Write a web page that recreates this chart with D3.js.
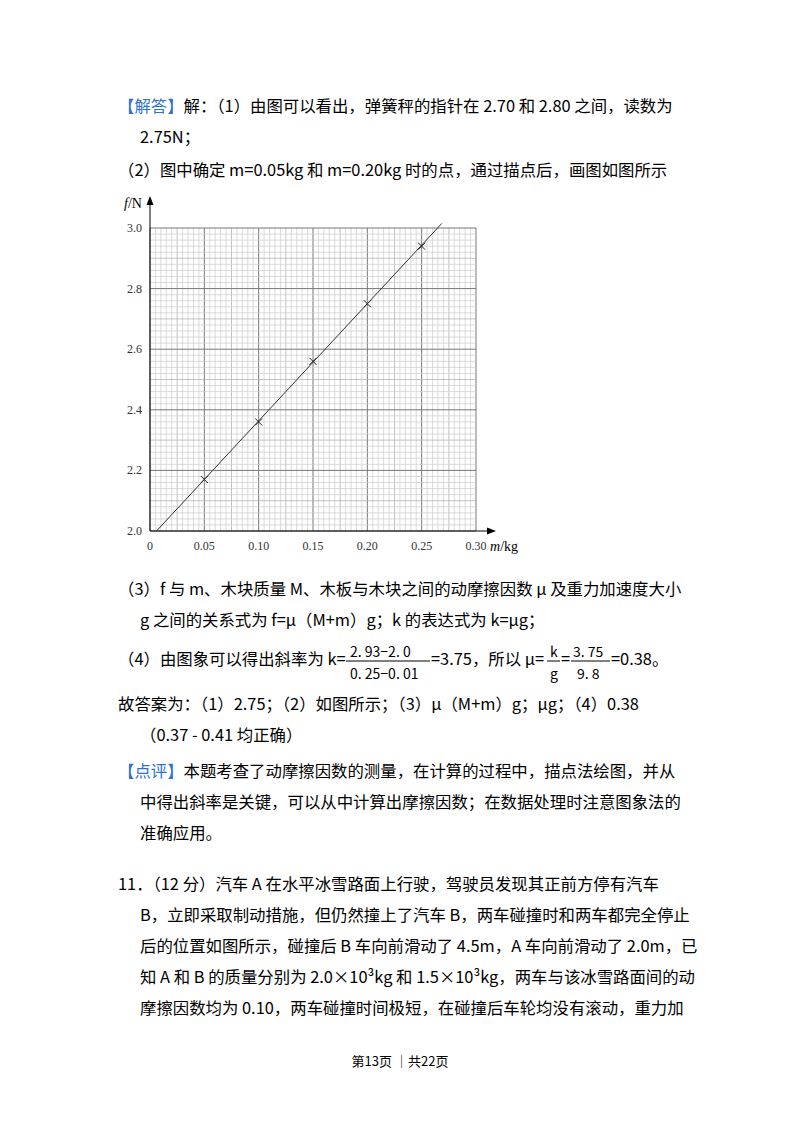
<!DOCTYPE html>
<html><head><meta charset="utf-8">
<script src="https://cdn.jsdelivr.net/npm/d3@7"></script>
<style>body{margin:0;background:#fff}</style>
</head><body>
<svg id="c" width="800" height="1132"></svg>
<script>
const massValues = [0.05, 0.10, 0.15, 0.20, 0.25];
const forceValues = [2.17, 2.36, 2.56, 2.75, 2.94];
const fitLine = [[0.006, 2.0], [0.2685, 3.015]];
const xTicks = [0, 0.05, 0.10, 0.15, 0.20, 0.25, 0.30];
const yTicks = [2.0, 2.2, 2.4, 2.6, 2.8, 3.0];

const svg = d3.select('#c');
const font = '"Noto Sans CJK SC", "Noto Sans", sans-serif';
const fs = 16.4;

// body text
const blue = '#2f6fd0';
const lines = [
  [118, 112, [['【解答】', blue], ['解：（1）由图可以看出，弹簧秤的指针在 2.70 和 2.80 之间，读数为', '#000']]],
  [140, 143, [['2.75N；', '#000']]],
  [118, 176, [['（2）图中确定 m=0.05kg 和 m=0.20kg 时的点，通过描点后，画图如图所示', '#000']]],
  [118, 595, [['（3）f 与 m、木块质量 M、木板与木块之间的动摩擦因数 μ 及重力加速度大小', '#000']]],
  [140, 626, [['g 之间的关系式为 f=μ（M+m）g；k 的表达式为 k=μg；', '#000']]],
  [118, 710, [['故答案为：（1）2.75；（2）如图所示；（3）μ（M+m）g；μg；（4）0.38', '#000']]],
  [140, 741, [['（0.37 - 0.41 均正确）', '#000']]],
  [118, 777, [['【点评】', blue], ['本题考查了动摩擦因数的测量，在计算的过程中，描点法绘图，并从', '#000']]],
  [140, 808, [['中得出斜率是关键，可以从中计算出摩擦因数；在数据处理时注意图象法的', '#000']]],
  [140, 839, [['准确应用。', '#000']]],
  [118, 890, [['11．（12 分）汽车 A 在水平冰雪路面上行驶，驾驶员发现其正前方停有汽车', '#000']]],
  [140, 921, [['B，立即采取制动措施，但仍然撞上了汽车 B，两车碰撞时和两车都完全停止', '#000']]],
  [140, 952, [['后的位置如图所示，碰撞后 B 车向前滑动了 4.5m，A 车向前滑动了 2.0m，已', '#000']]],
  [140, 983, [['知 A 和 B 的质量分别为 2.0×10³kg 和 1.5×10³kg，两车与该冰雪路面间的动', '#000']]],
  [140, 1014, [['摩擦因数均为 0.10，两车碰撞时间极短，在碰撞后车轮均没有滚动，重力加', '#000']]]
];
lines.forEach(([x, y, parts]) => {
  const t = svg.append('text').attr('x', x).attr('y', y)
    .attr('font-family', font).attr('font-size', fs);
  parts.forEach(([s, c]) => t.append('tspan').attr('fill', c).text(s));
});
// fraction line (4)
const ft = svg.append('g').attr('font-family', font).attr('font-size', fs);
ft.append('text').attr('x', 118).attr('y', 665).text('（4）由图象可以得出斜率为 k=');
ft.append('text').attr('x', 350).attr('y', 657).attr('font-size', 14).text('2. 93−2. 0');
ft.append('line').attr('x1', 346).attr('x2', 430).attr('y1', 661).attr('y2', 661).attr('stroke', '#000');
ft.append('text').attr('x', 350).attr('y', 679).attr('font-size', 14).text('0. 25−0. 01');
ft.append('text').attr('x', 431).attr('y', 665).text('=3.75，所以 μ=');
ft.append('text').attr('x', 550).attr('y', 657).attr('font-size', 14).text('k');
ft.append('line').attr('x1', 547).attr('x2', 560).attr('y1', 661).attr('y2', 661).attr('stroke', '#000');
ft.append('text').attr('x', 550).attr('y', 679).attr('font-size', 14).text('g');
ft.append('text').attr('x', 561).attr('y', 665).text('=');
ft.append('text').attr('x', 573).attr('y', 657).attr('font-size', 14).text('3. 75');
ft.append('line').attr('x1', 571).attr('x2', 610).attr('y1', 661).attr('y2', 661).attr('stroke', '#000');
ft.append('text').attr('x', 577).attr('y', 679).attr('font-size', 14).text('9. 8');
ft.append('text').attr('x', 611).attr('y', 665).text('=0.38。');

svg.append('text').attr('x', 400).attr('y', 1066).attr('text-anchor', 'middle')
  .attr('font-family', font).attr('font-size', 13).text('第13页 ｜共22页');

// chart
const x = d3.scaleLinear().domain([0, 0.30]).range([150, 476]);
const y = d3.scaleLinear().domain([2.0, 3.0]).range([531, 228]);
const g = svg.append('g');
const xs = d3.range(0, 61).map(i => i * 0.005);
const ys = d3.range(0, 51).map(i => 2 + i * 0.02);
xs.forEach((v, i) => g.append('line').attr('x1', x(v)).attr('x2', x(v)).attr('y1', y(2)).attr('y2', y(3))
  .attr('stroke', i % 10 === 0 ? '#777' : i % 5 === 0 ? '#aaa' : '#ccc').attr('stroke-width', i % 10 === 0 ? 1 : 0.7));
ys.forEach((v, i) => g.append('line').attr('y1', y(v)).attr('y2', y(v)).attr('x1', x(0)).attr('x2', x(0.3))
  .attr('stroke', i % 10 === 0 ? '#777' : i % 5 === 0 ? '#aaa' : '#ccc').attr('stroke-width', i % 10 === 0 ? 1 : 0.7));

// axes
g.append('line').attr('x1', x(0)).attr('x2', 490).attr('y1', y(2)).attr('y2', y(2)).attr('stroke', '#000');
g.append('path').attr('d', `M496,${y(2)} L487,${y(2) - 3.5} L487,${y(2) + 3.5}Z`);
g.append('line').attr('x1', x(0)).attr('x2', x(0)).attr('y1', y(2)).attr('y2', 202).attr('stroke', '#000');
g.append('path').attr('d', `M${x(0)},196 L${x(0) - 3.5},205 L${x(0) + 3.5},205Z`);

const serif = '"Liberation Serif", "DejaVu Serif", serif';
xTicks.forEach(v => g.append('text').attr('x', x(v)).attr('y', 550)
  .attr('text-anchor', 'middle')
  .attr('font-family', serif).attr('font-size', 12).attr('fill', '#333')
  .text(v === 0 ? '0' : v.toFixed(2)));
yTicks.forEach(v => g.append('text').attr('x', 142).attr('y', y(v) + 4).attr('text-anchor', 'end')
  .attr('font-family', serif).attr('font-size', 12).attr('fill', '#333').text(v.toFixed(1)));
g.append('text').attr('x', 490).attr('y', 551).attr('font-family', serif).attr('font-size', 14)
  .html('<tspan font-style="italic">m</tspan>/kg');
g.append('text').attr('x', 124).attr('y', 208).attr('font-family', serif).attr('font-size', 14)
  .html('<tspan font-style="italic">f</tspan>/N');

// fit line
g.append('path').attr('d', d3.line().x(d => x(d[0])).y(d => y(d[1]))(fitLine))
  .attr('stroke', '#333').attr('stroke-width', 1).attr('fill', 'none');
// crosses
massValues.forEach((m, i) => {
  const cx = x(m), cy = y(forceValues[i]);
  g.append('path').attr('d', `M${cx - 3.5},${cy - 3.5}L${cx + 3.5},${cy + 3.5}M${cx - 3.5},${cy + 3.5}L${cx + 3.5},${cy - 3.5}`)
    .attr('stroke', '#222').attr('stroke-width', 1);
});
</script>
</body></html>
